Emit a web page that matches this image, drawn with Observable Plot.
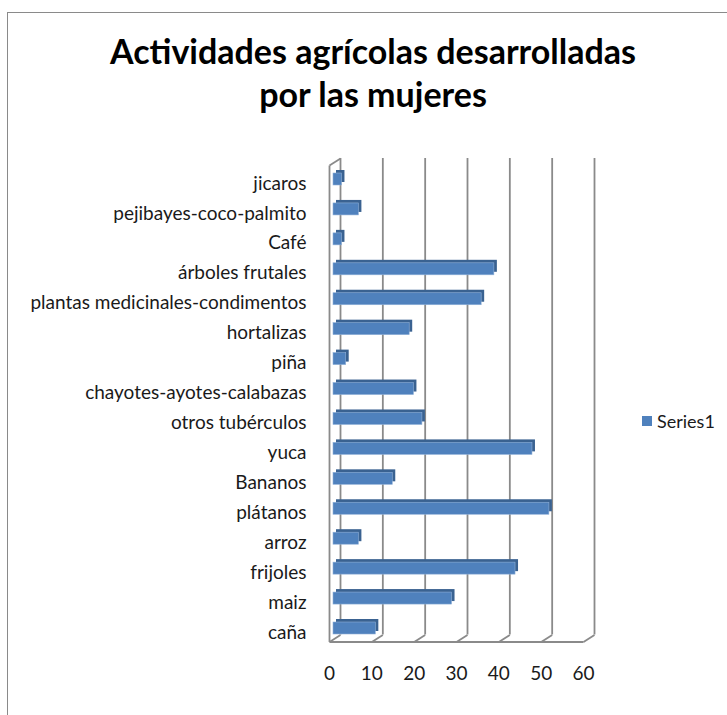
<!DOCTYPE html>
<html>
<head>
<meta charset="utf-8">
<script src="https://cdn.jsdelivr.net/npm/d3@7"></script>
<script src="https://cdn.jsdelivr.net/npm/@observablehq/plot@0.6"></script>
<style>
  html, body { margin: 0; padding: 0; background: #fff; overflow: hidden; width: 727px; height: 715px; }
  #frame { position: absolute; left: 7px; top: 12px; width: 800px; height: 800px; border: 1.5px solid #8a8a8a; }
  #title { position: absolute; left: 0; top: 29px; width: 746px; text-align: center;
           font-family: Lato, sans-serif; font-weight: bold; font-size: 34px; line-height: 43px; color: #000; }
  #chart { position: absolute; left: 0; top: 125px; }
  #legend { position: absolute; left: 642px; top: 410px; font-family: Lato, sans-serif; font-size: 18px; color: #1a1a1a;
            display: flex; align-items: center; }
  #legend .sw { width: 10px; height: 10px; background: #4f81bd; margin-right: 5px; }
</style>
</head>
<body>
<div id="frame"></div>
<div id="title">Actividades agrícolas desarrolladas<br>por las mujeres</div>
<div id="chart"></div>
<div id="legend"><span class="sw"></span><span id="legtext"></span></div>
<script>
const categories = ["jicaros", "pejibayes-coco-palmito", "Café", "árboles frutales",
  "plantas medicinales-condimentos", "hortalizas", "piña", "chayotes-ayotes-calabazas",
  "otros tubérculos", "yuca", "Bananos", "plátanos", "arroz", "frijoles", "maiz", "caña"];
const values = [2, 6, 2, 38, 35, 18, 3, 19, 21, 47, 14, 51, 6, 43, 28, 10];
const xTicks = [0, 10, 20, 30, 40, 50, 60];
const seriesName = "Series1";

document.getElementById("legtext").textContent = seriesName;

const rows = categories.map((c, i) => ({cat: c, i, v: values[i]}));

// geometry (px) of the pseudo-3D box, converted to data units
const W = 600, H = 580, mL = 333, mR = 13, mT = 54, mB = 77;
const kx = 60 / (W - mL - mR);          // x units per px
const ky = 15 / (H - mT - mB);          // y units per px
const frontDX = -4 * kx, backDX = 7 * kx;
const frontTop = -14 * ky, backTop = -21 * ky;
const frontBottom = 15 + 13.5 * ky, backBottom = 15 + 6.5 * ky;
const half = 6 * ky;                    // half height of bar front face
const grid = {stroke: "#8a8a8a", strokeWidth: 1.8};

const plot = Plot.plot({
  width: W, height: H,
  marginLeft: mL, marginRight: mR, marginTop: mT, marginBottom: mB,
  x: {domain: [0, 60], axis: null},
  y: {domain: [0, 15], reverse: true, axis: null},
  style: {fontFamily: "Lato, sans-serif", color: "#1a1a1a", background: "transparent"},
  marks: [
    // back wall gridlines
    Plot.ruleX(xTicks, {x: d => d + backDX, y1: backTop, y2: backBottom, ...grid}),
    // floor depth lines
    Plot.link(xTicks, {x1: d => d + frontDX, x2: d => d + backDX, y1: frontBottom, y2: backBottom, ...grid}),
    // floor front edge
    Plot.link([0], {x1: frontDX, x2: 60 + frontDX, y1: frontBottom, y2: frontBottom, ...grid}),
    // left wall front edge and top edge
    Plot.link([0], {x1: frontDX, x2: frontDX, y1: frontTop, y2: frontBottom, ...grid}),
    Plot.link([0], {x1: frontDX, x2: backDX, y1: frontTop, y2: backTop, ...grid}),
    // bar depth faces
    Plot.rect(rows, {x1: 0, x2: "v", y1: d => d.i - half, y2: d => d.i + half, dx: 3, dy: -3, fill: "#3a6291"}),
    // bar front faces
    Plot.rect(rows, {x1: 0, x2: "v", y1: d => d.i - half, y2: d => d.i + half, fill: "#4f81bd", stroke: "#8fb0d8", strokeWidth: 0.6}),
    // axes
    Plot.axisY(d3.range(categories.length), {anchor: "left", tickSize: 0, tickPadding: 27, dy: 4,
      tickFormat: i => categories[i], fontSize: 19, label: null, fill: "#1a1a1a"}),
    Plot.axisX(xTicks, {anchor: "bottom", tickSize: 0, tickPadding: 38, dx: -4, fontSize: 19, label: null, fill: "#1a1a1a"})
  ]
});
document.getElementById("chart").appendChild(plot);
</script>
</body>
</html>
